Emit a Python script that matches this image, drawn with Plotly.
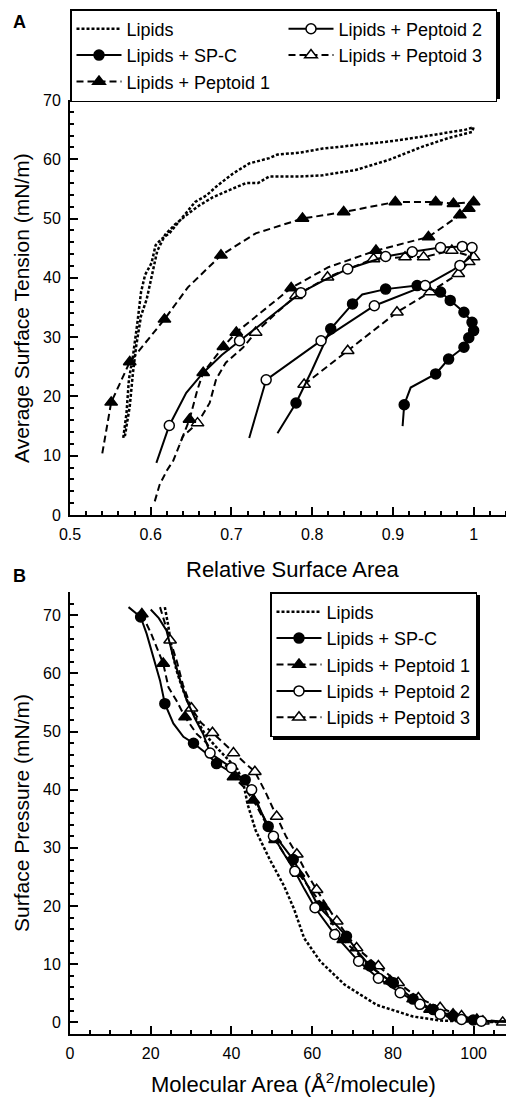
import plotly.graph_objects as go

# ---------------- Panel A : surface tension vs relative area ----------------
A_lip_x = [0.566, 0.570, 0.573, 0.578, 0.584, 0.588, 0.593, 0.601, 0.606, 0.613, 0.623, 0.635,
           0.645, 0.655, 0.669, 0.683, 0.702, 0.722, 0.747, 0.757, 0.784, 0.813, 0.854, 0.895,
           0.936, 0.965, 0.990, 1.000, 0.998, 0.969, 0.936, 0.895, 0.854, 0.813, 0.784, 0.747,
           0.733, 0.718, 0.693, 0.677, 0.660, 0.648, 0.630, 0.618, 0.608, 0.600, 0.595, 0.588,
           0.582, 0.578, 0.574, 0.568]
A_lip_y = [13.0, 17.2, 22.9, 26.8, 33.0, 37.6, 40.5, 42.5, 45.5, 46.5, 47.5, 49.5,
           51.2, 52.8, 53.9, 55.6, 57.6, 59.3, 60.2, 60.8, 61.1, 61.8, 62.4, 63.0,
           63.8, 64.4, 65.0, 65.4, 64.6, 63.6, 62.1, 59.9, 58.2, 57.3, 57.1, 57.1,
           56.0, 56.0, 54.5, 53.6, 52.2, 51.0, 49.0, 47.3, 44.5, 39.8, 36.4, 33.6,
           28.5, 24.0, 18.3, 13.3]

A_spc_x = [0.757, 0.780, 0.800, 0.823, 0.850, 0.862, 0.891, 0.930, 0.959, 0.971, 0.988, 0.998,
           1.000, 0.994, 0.988, 0.969, 0.953, 0.922, 0.914, 0.912]
A_spc_y = [13.8, 18.9, 24.5, 31.4, 35.6, 37.2, 38.1, 38.7, 37.6, 36.2, 34.2, 32.5,
           31.1, 29.9, 28.3, 26.3, 23.8, 21.5, 18.6, 15.0]
A_spc_m = [0, 1, 0, 1, 1, 0, 1, 1, 1, 1, 1, 1,
           1, 1, 1, 1, 1, 0, 1, 0]

A_p1_x = [0.540, 0.551, 0.574, 0.617, 0.646, 0.687, 0.730, 0.788, 0.839, 0.903, 0.953, 0.975,
          1.000, 0.994, 0.983, 0.944, 0.879, 0.820, 0.774, 0.739, 0.706, 0.690, 0.665, 0.658,
          0.648, 0.636]
A_p1_y = [10.4, 19.0, 25.8, 33.0, 38.4, 43.8, 47.5, 50.0, 51.1, 52.8, 52.8, 52.5,
          52.8, 51.7, 50.6, 46.9, 44.6, 41.8, 38.3, 34.5, 30.8, 28.4, 24.0, 21.2,
          16.1, 12.0]
A_p1_m = [0, 1, 1, 1, 0, 1, 0, 1, 1, 1, 1, 1,
          1, 1, 1, 1, 1, 0, 1, 0, 1, 1, 1, 0,
          1, 0]

A_p2_x = [0.607, 0.623, 0.644, 0.665, 0.688, 0.710, 0.747, 0.786, 0.815, 0.844, 0.891, 0.924,
          0.959, 0.986, 0.998, 0.996, 0.983, 0.973, 0.940, 0.877, 0.811, 0.743, 0.722]
A_p2_y = [8.8, 15.1, 20.6, 24.0, 27.0, 29.4, 33.3, 37.5, 39.6, 41.5, 43.6, 44.4,
          45.1, 45.3, 45.1, 43.5, 42.1, 41.2, 38.7, 35.3, 29.4, 22.8, 13.0]
A_p2_m = [0, 1, 0, 0, 0, 1, 0, 1, 0, 1, 1, 1,
          1, 1, 1, 0, 1, 0, 1, 1, 1, 1, 0]

A_p3_x = [0.605, 0.611, 0.620, 0.628, 0.640, 0.658, 0.673, 0.681, 0.693, 0.714, 0.730, 0.755,
          0.780, 0.819, 0.876, 0.915, 0.938, 0.973, 1.000, 0.994, 0.981, 0.946, 0.905, 0.844,
          0.790]
A_p3_y = [2.3, 5.1, 7.5, 9.2, 13.3, 15.5, 18.9, 22.9, 25.7, 28.2, 30.8, 34.0,
          37.0, 40.1, 43.2, 43.5, 43.5, 44.6, 43.5, 42.7, 40.7, 37.6, 34.2, 27.7,
          22.0]
A_p3_m = [0, 0, 0, 0, 0, 1, 0, 0, 0, 0, 1, 0,
          1, 1, 1, 1, 1, 1, 1, 1, 1, 1, 1, 1,
          1]

# ---------------- Panel B : surface pressure vs molecular area ----------------
B_lip_x = [23.5, 24.4, 25.2, 26.4, 27.7, 29.0, 31.0, 33.5, 36.0, 39.0, 41.5, 43.0, 44.0,
           46.0, 49.5, 53.0, 55.5, 58.0, 62.0, 68.0, 76.0, 85.0, 92.0, 100.0, 110.0]
B_lip_y = [71.4, 68.0, 64.0, 60.5, 57.7, 55.4, 52.5, 49.5, 47.5, 45.3, 43.5, 41.0, 37.5,
           33.0, 28.0, 23.5, 19.5, 14.5, 10.5, 6.5, 3.0, 1.0, 0.3, 0.1, 0.0]

B_spc_x = [14.5, 17.5, 19.0, 20.6, 22.3, 23.5, 25.6, 28.1, 30.6, 33.9, 36.3, 40.0, 43.4,
           46.0, 49.1, 52.0, 55.3, 58.5, 61.5, 65.0, 68.5, 71.5, 74.3, 77.0, 80.1, 85.0,
           90.0, 94.9, 99.9, 104.9, 110.0]
B_spc_y = [71.4, 69.7, 66.8, 62.8, 58.8, 54.8, 51.4, 49.1, 48.0, 46.2, 44.5, 43.0, 41.7,
           38.0, 33.7, 31.0, 28.0, 24.0, 20.0, 17.5, 14.8, 12.0, 9.7, 8.2, 6.8, 4.0,
           2.2, 1.1, 0.4, 0.2, 0.2]
B_spc_m = [0, 1, 0, 0, 0, 1, 0, 0, 1, 0, 1, 0, 1,
           0, 1, 0, 1, 0, 1, 0, 1, 0, 1, 0, 1, 1,
           1, 1, 1, 0, 0]

B_p1_x = [17.8, 20.0, 23.1, 24.4, 26.4, 28.5, 31.4, 33.9, 36.3, 38.8, 40.5, 43.0, 45.4,
          48.0, 50.8, 53.5, 56.6, 59.5, 62.8, 65.0, 67.7, 71.0, 74.3, 79.3, 85.0, 89.2,
          94.9, 100.8, 106.0, 110.0]
B_p1_y = [70.2, 67.0, 61.7, 57.6, 55.3, 52.5, 49.6, 48.0, 45.1, 44.0, 42.2, 40.5, 38.2,
          35.0, 31.4, 28.5, 25.6, 22.8, 19.9, 17.0, 14.2, 12.0, 9.7, 7.1, 4.0, 2.2,
          1.4, 0.5, 0.2, 0.1]
B_p1_m = [1, 0, 1, 0, 0, 1, 0, 0, 0, 0, 1, 0, 1,
          0, 1, 0, 1, 0, 1, 0, 1, 0, 1, 1, 1, 1,
          1, 1, 0, 0]

B_p2_x = [20.0, 22.0, 23.9, 25.6, 27.3, 28.9, 31.0, 33.0, 34.7, 37.5, 40.0, 42.5, 45.0,
          47.5, 50.4, 53.0, 55.7, 58.0, 60.7, 65.6, 71.5, 76.4, 81.8, 86.7, 91.7, 97.0,
          101.9, 106.0, 110.0]
B_p2_y = [71.0, 69.5, 67.4, 62.8, 58.8, 55.4, 52.2, 49.6, 46.3, 45.0, 43.8, 42.0, 40.0,
          36.0, 32.0, 29.0, 26.0, 23.0, 19.7, 15.1, 10.5, 7.6, 5.1, 3.1, 1.4, 0.5,
          0.2, 0.1, 0.1]
B_p2_m = [0, 0, 0, 0, 0, 0, 0, 0, 1, 0, 1, 0, 1,
          0, 1, 0, 1, 0, 1, 1, 1, 1, 1, 1, 1, 1,
          1, 0, 0]

B_p3_x = [22.3, 23.5, 24.8, 26.5, 28.0, 30.1, 32.5, 35.3, 38.0, 40.5, 43.0, 45.8, 48.5,
          51.2, 53.5, 56.2, 58.5, 61.1, 66.1, 71.0, 76.4, 81.3, 86.3, 91.7, 97.0, 102.3,
          107.2, 110.0]
B_p3_y = [71.4, 68.5, 65.7, 62.0, 58.0, 54.0, 51.5, 49.8, 48.0, 46.3, 44.8, 43.1, 39.5,
          35.4, 32.0, 28.9, 25.8, 22.8, 17.4, 12.8, 9.7, 6.8, 4.2, 2.5, 1.1, 0.2,
          0.0, 0.0]
B_p3_m = [0, 0, 1, 0, 0, 1, 0, 1, 0, 1, 0, 1, 0,
          1, 0, 1, 0, 1, 1, 1, 1, 1, 1, 1, 1, 1,
          1, 0]

names = ["Lipids", "Lipids + SP-C", "Lipids + Peptoid 1", "Lipids + Peptoid 2", "Lipids + Peptoid 3"]

FONT = "Arial, Liberation Sans, sans-serif"
DOT = "3px,2px"
DASH = "7px,4px"
styles = {
    names[0]: dict(dash=DOT, width=2.5, symbol=None, fill=None),
    names[1]: dict(dash="solid", width=2, symbol="circle", fill="black"),
    names[2]: dict(dash=DASH, width=2, symbol="triangle-up", fill="black"),
    names[3]: dict(dash="solid", width=2, symbol="circle", fill="white"),
    names[4]: dict(dash=DASH, width=2, symbol="triangle-up", fill="white"),
}
MSIZE = {"circle": 10, "triangle-up": 11}

fig = go.Figure()


def add_series(name, x, y, m, xa, ya):
    st = styles[name]
    fig.add_trace(go.Scatter(x=x, y=y, mode="lines", xaxis=xa, yaxis=ya,
                             line=dict(color="black", width=st["width"], dash=st["dash"]),
                             showlegend=False, hoverinfo="skip"))
    if st["symbol"] and m is not None:
        mx = [a for a, k in zip(x, m) if k]
        my = [b for b, k in zip(y, m) if k]
        fig.add_trace(go.Scatter(x=mx, y=my, mode="markers", xaxis=xa, yaxis=ya,
                                 marker=dict(symbol=st["symbol"], size=MSIZE[st["symbol"]],
                                             color=st["fill"], line=dict(color="black", width=1.5)),
                                 showlegend=False, hoverinfo="skip"))


def add_legend_entry(name, legend, rank):
    st = styles[name]
    kw = dict(x=[None], y=[None], name=name, legend=legend, legendrank=rank,
              legendgroup=legend + name,
              line=dict(color="black", width=st["width"], dash=st["dash"]), hoverinfo="skip")
    if st["symbol"]:
        kw["mode"] = "lines+markers"
        kw["marker"] = dict(symbol=st["symbol"], size=MSIZE[st["symbol"]], color=st["fill"],
                            line=dict(color="black", width=1.5))
    else:
        kw["mode"] = "lines"
    fig.add_trace(go.Scatter(**kw))


# Panel A
add_series(names[0], A_lip_x, A_lip_y, None, "x", "y")
add_series(names[4], A_p3_x, A_p3_y, A_p3_m, "x", "y")
add_series(names[2], A_p1_x, A_p1_y, A_p1_m, "x", "y")
add_series(names[1], A_spc_x, A_spc_y, A_spc_m, "x", "y")
add_series(names[3], A_p2_x, A_p2_y, A_p2_m, "x", "y")
# Panel B
add_series(names[0], B_lip_x, B_lip_y, None, "x2", "y2")
add_series(names[4], B_p3_x, B_p3_y, B_p3_m, "x2", "y2")
add_series(names[2], B_p1_x, B_p1_y, B_p1_m, "x2", "y2")
add_series(names[1], B_spc_x, B_spc_y, B_spc_m, "x2", "y2")
add_series(names[3], B_p2_x, B_p2_y, B_p2_m, "x2", "y2")

# legend entries (panel A: two columns, row-wise order)
for rank, nm in zip([1, 3, 5, 2, 4], names):
    add_legend_entry(nm, "legend", rank)
for rank, nm in enumerate(names):
    add_legend_entry(nm, "legend2", rank + 1)

# The page body adds an 8 px margin, so the figure is built 8 px smaller and all
# reference (page) pixel positions are shifted by that offset.
OFF = 8
W, H = 514 - OFF, 1098 - OFF
PLOT_L, PLOT_R, PLOT_T, PLOT_B = 70, 514, 100, 1034      # page pixels
ML = PLOT_L - OFF
MR = 0
MT = PLOT_T - OFF
MB = H - (PLOT_B - OFF)
PW, PH = W - ML - MR, H - MT - MB


def px(X):
    return (X - OFF - ML) / PW


def py(Y):
    return (H - MB - (Y - OFF)) / PH


axis_common = dict(showline=True, linecolor="black", linewidth=2, ticks="inside", ticklen=8,
                   tickwidth=1.5, tickcolor="black", showgrid=False, zeroline=False,
                   tickfont=dict(family=FONT, size=16, color="black"), ticklabelstandoff=4,
                   automargin=False, fixedrange=True)
minor_common = dict(ticks="inside", ticklen=4, tickwidth=1.5, tickcolor="black", showgrid=False)

LEGFONT = dict(family=FONT, size=18, color="black")
LA = dict(x=70, y=9, w=427, h=87)        # legend A box (page px)
LB = dict(x=270, y=592, w=207, h=145)    # legend B box (page px)

fig.update_layout(
    template="none",
    width=W, height=H, margin=dict(l=ML, r=MR, t=MT, b=MB, autoexpand=False),
    paper_bgcolor="white", plot_bgcolor="white",
    font=dict(family=FONT, color="black"),
    xaxis=dict(domain=[0, 1], anchor="y", range=[0.5, 1.05], tick0=0.5, dtick=0.1,
               minor=dict(dtick=0.02, **minor_common), **axis_common),
    yaxis=dict(domain=[py(515), 1], anchor="x", range=[0, 70], tick0=0, dtick=10,
               minor=dict(dtick=2, **minor_common), **axis_common),
    xaxis2=dict(domain=[0, 1], anchor="y2", range=[0, 110], tick0=0, dtick=20,
                minor=dict(dtick=5, **minor_common), **axis_common),
    yaxis2=dict(domain=[0, py(592)], anchor="x2", range=[-2, 74], tick0=0, dtick=10,
                minor=dict(dtick=2, **minor_common), **axis_common),
    legend=dict(orientation="h", x=px(LA["x"]), xanchor="left", y=py(LA["y"]), yanchor="top",
                entrywidth=152, entrywidthmode="pixels", itemwidth=45,
                bgcolor="white", bordercolor="black", borderwidth=1.5,
                font=LEGFONT, traceorder="normal"),
    legend2=dict(orientation="v", x=px(LB["x"]), xanchor="left", y=py(LB["y"]), yanchor="top",
                 itemwidth=45, bgcolor="white", bordercolor="black", borderwidth=1.5,
                 traceorder="grouped", tracegroupgap=0, font=LEGFONT),
    showlegend=True,
)

# legend drop shadows (offset copies of the legend boxes)
for L in (LA, LB):
    fig.add_shape(type="rect", xref="paper", yref="paper",
                  x0=px(L["x"] + 3), x1=px(L["x"] + L["w"] + 3),
                  y0=py(L["y"] + L["h"] + 3), y1=py(L["y"] + 3),
                  fillcolor="black", line=dict(width=0), layer="above")

TF = dict(family=FONT, size=22, color="black")
TFY = dict(family=FONT, size=21, color="black")
PF = dict(family=FONT, size=18, color="black")
ann = [
    dict(text="<b>A</b>", x=px(19), y=py(22), font=PF),
    dict(text="<b>B</b>", x=px(19), y=py(576), font=PF),
    dict(text="Average Surface Tension (mN/m)", x=px(21), y=py(308), textangle=-90, font=TFY),
    dict(text="Relative Surface Area", x=px(293), y=py(569), font=TF),
    dict(text="Surface Pressure (mN/m)", x=px(21), y=py(813), textangle=-90, font=TFY),
    dict(text="Molecular Area (Å<sup>2</sup>/molecule)", x=px(293), y=py(1083), font=TF),
]
for a in ann:
    fig.add_annotation(xref="paper", yref="paper", showarrow=False, xanchor="center",
                       yanchor="middle", **a)

fig.write_html("out.html")
